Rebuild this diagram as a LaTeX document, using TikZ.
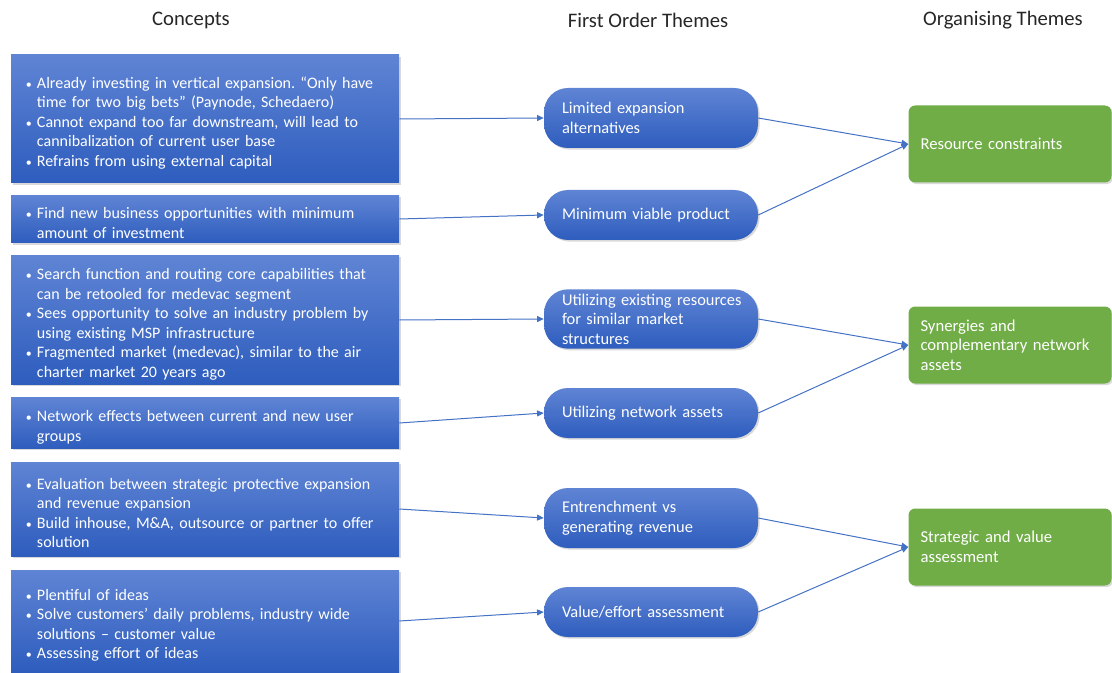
\documentclass[tikz,border=0pt]{standalone}
\usepackage{fontspec}
\setmainfont{Carlito}
\usepackage{tikz}
\usetikzlibrary{positioning, arrows.meta, shadows}
\definecolor{hdrText}{HTML}{262626}
\definecolor{conTop}{HTML}{5F84D4}
\definecolor{conBot}{HTML}{2E5DBE}
\definecolor{orgFill}{HTML}{70AD47}
\definecolor{lnkBlue}{HTML}{4472C4}
\newcommand{\itm}{\par\noindent\hangindent=8.25pt\hangafter=1\makebox[8.25pt][l]{\small\textbullet}}
\frenchspacing

\begin{document}
\begin{tikzpicture}[x=0.75pt, y=-0.75pt, con/.style={rectangle, top color=conTop, bottom color=conBot, text=white, inner xsep=11.25pt, text width=268.5pt, align=left, font=\fontsize{12}{14.6}\selectfont, drop shadow={shadow xshift=1.2pt, shadow yshift=-1.2pt, opacity=0.3}},thm/.style={rectangle, rounded corners=18pt, top color=conTop, bottom color=conBot, text=white, inner xsep=13.5pt, text width=133.5pt, align=left, font=\fontsize{12.3}{14.6}\selectfont, drop shadow={shadow xshift=1.2pt, shadow yshift=-1.2pt, opacity=0.3}},org/.style={rectangle, rounded corners=5pt, fill=orgFill, text=white, inner xsep=9pt, text width=134.25pt, minimum height=57.75pt, align=left, font=\fontsize{12.5}{14.6}\selectfont, drop shadow={shadow xshift=1.2pt, shadow yshift=-1.2pt, opacity=0.3}},hdr/.style={font=\fontsize{15.5}{18}\selectfont, text=hdrText},link/.style={draw=lnkBlue, line width=0.75pt, -{Triangle[length=5pt, width=4.5pt]}}]
\useasboundingbox (0,0) rectangle (1112,673);
\node[hdr] (hc) at (191,20) {Concepts};
\node[hdr] (hf) at (648,20) {First Order Themes};
\node[hdr] (ho) at (1003,20) {Organising Themes};
\node[con, minimum height=96pt] (c1) at (205,119) {\itm Already investing in vertical expansion. “Only have\newline time for two big bets” (Paynode, Schedaero)\itm Cannot expand too far downstream, will lead to\newline cannibalization of current user base\itm Refrains from using external capital\par};
\node[con, minimum height=31.5pt] (c2) at (205,219) {\itm Find new business opportunities with minimum\newline amount of investment\par};
\node[con, minimum height=96pt] (c3) at (205,320) {\itm Search function and routing core capabilities that\newline can be retooled for medevac segment\itm Sees opportunity to solve an industry problem by\newline using existing MSP infrastructure\itm Fragmented market (medevac), similar to the air\newline charter market 20 years ago\par};
\node[con, minimum height=34.5pt] (c4) at (205,423) {\itm Network effects between current and new user\newline groups\par};
\node[con, minimum height=70.5pt] (c5) at (205,509) {\itm Evaluation between strategic protective expansion\newline and revenue expansion\itm Build inhouse, M\&A, outsource or partner to offer\newline solution\par};
\node[con, minimum height=76.5pt] (c6) at (205,621) {\itm Plentiful of ideas\itm Solve customers' daily problems, industry wide\newline solutions -- customer value\itm Assessing effort of ideas\par};
\node[thm, minimum height=45pt] (t1) at (651,118) {Limited expansion\\alternatives};
\node[thm, minimum height=37.5pt] (t2) at (651,215) {Minimum viable product};
\node[thm, minimum height=44.25pt] (t3) at (651,319) {\mbox{Utilizing existing resources}\\for similar market\\structures};
\node[thm, minimum height=37.5pt] (t4) at (651,413) {Utilizing network assets};
\node[thm, minimum height=45pt] (t5) at (651,518) {Entrenchment vs\\generating revenue};
\node[thm, minimum height=37.5pt] (t6) at (651,612) {Value/effort assessment};
\node[org] (o1) at (1010,144) {Resource constraints};
\node[org] (o2) at (1010,345) {Synergies and\\complementary network\\assets};
\node[org] (o3) at (1010,547) {Strategic and value\\assessment};
\draw[link] (c1.east) -- (t1.west);
\draw[link] (c2.east) -- (t2.west);
\draw[link] (c3.east) -- (t3.west);
\draw[link] (c4.east) -- (t4.west);
\draw[link] (c5.east) -- (t5.west);
\draw[link] (c6.east) -- (t6.west);
\draw[link] (t1.east) -- (o1.west);
\draw[link] (t2.east) -- (o1.west);
\draw[link] (t3.east) -- (o2.west);
\draw[link] (t4.east) -- (o2.west);
\draw[link] (t5.east) -- (o3.west);
\draw[link] (t6.east) -- (o3.west);
\end{tikzpicture}
\end{document}
